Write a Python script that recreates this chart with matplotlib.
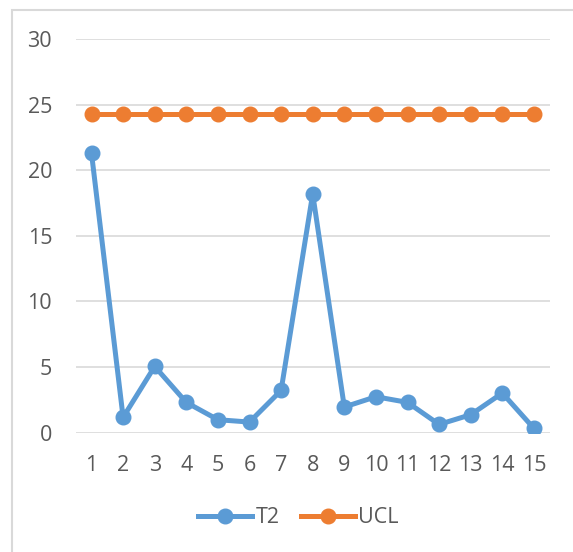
import matplotlib.pyplot as plt
from matplotlib.patches import Rectangle

samples = list(range(1, 16))
t2 = [21.3, 1.17, 5.05, 2.31, 0.99, 0.81, 3.22, 18.2, 1.96, 2.74, 2.31, 0.63, 1.37, 3.02, 0.33]
ucl = [24.3] * 15
yticks = [0, 5, 10, 15, 20, 25, 30]

plt.rcParams['font.family'] = ['Open Sans', 'DejaVu Sans']
txt = '#595959'

fig = plt.figure(figsize=(5.73, 5.52), dpi=100)
# light chart frame, cut off at right and bottom
fig.patches.append(Rectangle((11.5 / 573, -0.1), 1.2, 1 - 10 / 552 + 0.1, transform=fig.transFigure,
                             fill=False, edgecolor='#d9d9d9', linewidth=1.5))
ax = fig.add_axes([75.7 / 573, 1 - 432.7 / 552, 474 / 573, 393.7 / 552])

ax.plot(samples, t2, color='#5b9bd5', lw=3.6, marker='o', ms=10.5, label='T2', zorder=3)
ax.plot(samples, ucl, color='#ed7d31', lw=3.6, marker='o', ms=10.5, label='UCL', zorder=3)

ax.set_xlim(0.5, 15.5)
ax.set_ylim(0, 30)
ax.set_yticks(yticks)
ax.set_xticks(samples)
ax.grid(axis='y', color='#d9d9d9', lw=1.2)
ax.set_axisbelow(True)
for s in ax.spines.values():
    s.set_visible(False)
ax.tick_params(length=0, labelsize=15.5, colors=txt)
ax.tick_params(axis='y', pad=17)
ax.tick_params(axis='x', pad=16)

fig.legend(loc='center', bbox_to_anchor=(298.5 / 573, 1 - 517.7 / 552), ncol=2, frameon=False,
           fontsize=15.5, labelcolor=txt, handlelength=2.5, handletextpad=0.15, columnspacing=1.0)

fig.savefig('out.png', dpi=100)
